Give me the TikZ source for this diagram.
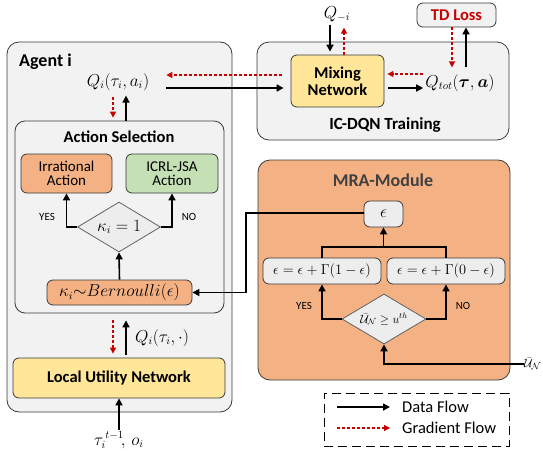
\documentclass[tikz,border=0pt]{standalone}
\usepackage{amsmath,amssymb}
\usepackage{fontspec}
\setmainfont{Carlito}
\usetikzlibrary{shapes.geometric,arrows.meta,calc}
\definecolor{panel}{HTML}{F2F2F2}
\definecolor{bdr}{HTML}{3A3A3A}
\definecolor{orng}{HTML}{F4B183}
\definecolor{grn}{HTML}{C5E0B4}
\definecolor{ylw}{HTML}{FFE699}
\definecolor{lgry}{HTML}{EDEDED}
\definecolor{gred}{HTML}{C80000}
\definecolor{dgry}{HTML}{404040}
\begin{document}
\begin{tikzpicture}[x=1pt,y=-1pt,
  box/.style={draw=bdr, line width=0.8pt, rounded corners=6pt, inner sep=0pt, align=center, font=\fontsize{15}{16}\selectfont},
  panelbox/.style={box, fill=panel, rounded corners=12pt},
  bt/.style={font=\fontsize{16.5}{19}\selectfont\bfseries},
  mt/.style={font=\fontsize{16}{19}\selectfont, inner sep=0pt},
  yn/.style={font=\fontsize{11}{13}\selectfont, inner sep=0pt},
  dia/.style={diamond, draw=bdr!80, line width=0.8pt, fill=lgry, aspect=1.66, inner sep=0pt},
  data/.style={line width=1.6pt, -{Triangle[length=7pt,width=7pt]}},
  plain/.style={line width=1.6pt},
  grad/.style={line width=1.3pt, gred, dash pattern=on 3pt off 2pt, -{Triangle[length=6pt,width=6pt]}}]
\useasboundingbox (0,0) rectangle (543,450);

% ---------- Agent panel ----------
\node[panelbox, minimum width=225pt, minimum height=370pt] (agent) at (119.5,227) {};
\node[bt, font=\fontsize{18}{21}\selectfont\bfseries, anchor=west, inner sep=0pt] (agenttitle) at (19,62) {Agent i};
\node[mt] (qi) at (118,82) {$Q_i(\tau_i,a_i)$};

\node[box, fill=panel, rounded corners=10pt, minimum width=209pt, minimum height=192pt] (actsel) at (119.5,217) {};
\node[bt, inner sep=0pt] (acttitle) at (119,137) {Action Selection};
\node[box, fill=orng, minimum width=91pt, minimum height=39pt] (irr) at (66.5,173.5) {Irrational\\[-2pt]Action};
\node[box, fill=grn, minimum width=92pt, minimum height=39pt] (icrl) at (172,173.5) {ICRL-JSA\\[-2pt]Action};
\node[dia, minimum width=83pt, minimum height=50pt] (d1) at (119,227) {\fontsize{16}{19}\selectfont$\kappa_i=1$};
\node[yn] (yes1) at (47,217) {YES};
\node[yn] (no1) at (189,217) {NO};
\node[box, fill=orng, minimum width=145pt, minimum height=25pt] (bern) at (119.5,292.5) {\fontsize{16}{19}\selectfont$\kappa_i{\sim}Bernoulli(\epsilon)$};

\node[box, fill=ylw, minimum width=212pt, minimum height=40pt, bt] (lun) at (119,378) {Local Utility Network};
\node[mt, anchor=west] (qidot) at (135,338) {$Q_i(\tau_i,\cdot)$};
\node[mt, inner sep=1pt] (tau) at (119,440) {$\tau_i^{\,t-1}\!,\,o_i$};

% ---------- IC-DQN panel ----------
\node[panelbox, minimum width=252pt, minimum height=98pt] (icdqn) at (383,91) {};
\node[bt, font=\fontsize{17}{20}\selectfont\bfseries, inner sep=0pt] (icdqntitle) at (385,125) {IC-DQN Training};
\node[box, fill=ylw, minimum width=93pt, minimum height=52pt, bt] (mix) at (337.5,81) {Mixing\\[-2pt]Network};
\node[mt] (qmi) at (337,14) {$Q_{-i}$};
\node[mt] (qtot) at (460,83) {$Q_{tot}(\boldsymbol{\tau},\boldsymbol{a})$};
\node[box, fill=panel, minimum width=79pt, minimum height=24pt, bt, text=gred] (td) at (456.5,15) {TD Loss};

% ---------- MRA panel ----------
\node[box, fill=orng, rounded corners=12pt, minimum width=252pt, minimum height=220pt] (mra) at (384,270) {};
\node[bt, font=\fontsize{18}{21}\selectfont\bfseries, text=dgry, inner sep=0pt] (mratitle) at (383,180) {MRA-Module};
\node[box, fill=lgry, minimum width=39pt, minimum height=26pt] (eps) at (383.5,214) {\fontsize{16}{19}\selectfont$\epsilon$};
\node[box, fill=lgry, minimum width=118pt, minimum height=26pt] (upd1) at (322,271) {$\epsilon=\epsilon+\Gamma(1-\epsilon)$};
\node[box, fill=lgry, minimum width=118pt, minimum height=26pt] (upd2) at (446,271) {$\epsilon=\epsilon+\Gamma(0-\epsilon)$};
\node[dia, minimum width=84pt, minimum height=50pt] (d2) at (384,319) {\fontsize{11.5}{13}\selectfont$\bar{\mathcal{U}}_{\mathcal{N}}\geq u^{th}$};
\node[yn] (yes2) at (304,306) {YES};
\node[yn] (no2) at (463,306) {NO};
\node[mt, font=\fontsize{13}{15}\selectfont, anchor=west] (ubar) at (524,364) {$\bar{\mathcal{U}}_{\mathcal{N}}$};

% ---------- Legend ----------
\node[draw=black, line width=1pt, dash pattern=on 9pt off 5pt, minimum width=185pt, minimum height=53pt, inner sep=0pt] (legend) at (416.5,419.5) {};
\coordinate (l1a) at (337,407);
\coordinate (l1b) at (390,407);
\coordinate (l2a) at (337,428);
\coordinate (l2b) at (390,428);
\node[mt, anchor=west, font=\fontsize{16.5}{19}\selectfont] (ldata) at (402,407) {Data Flow};
\node[mt, anchor=west, font=\fontsize{16.5}{19}\selectfont] (lgrad) at (402,428) {Gradient Flow};
\draw[data] (l1a) -- (l1b);
\draw[grad] (l2a) -- (l2b);

% ---------- Connectors ----------
% Q_i <-> action selection
\draw[grad] ($(actsel.north)+(-6.5,-24)$) -- ($(actsel.north)+(-6.5,-3)$);
\draw[data] ($(actsel.north)+(6.5,0)$) -- ($(actsel.north)+(6.5,-25)$);
% Q_i <-> mixing network
\draw[data] ($(qi.east)+(17,6)$) -- ($(mix.west)+(-7,7)$);
\draw[grad] ($(mix.west)+(-9,-6)$) -- ($(qi.east)+(17,-7)$);
% Q_{-i} <-> mixing
\draw[data] ($(mix.north)+(-7.5,-30)$) -- ($(mix.north)+(-7.5,-3)$);
\draw[grad] ($(mix.north)+(6.5,0)$) -- ($(mix.north)+(6.5,-27)$);
% mixing <-> Q_tot
\draw[data] ($(mix.east)+(4,7)$) -- ($(qtot.west)+(-2,5)$);
\draw[grad] ($(qtot.west)+(-2,-9)$) -- ($(mix.east)+(3,-7)$);
% Q_tot <-> TD loss
\draw[grad] ($(td.south)+(-4.5,0)$) -- ($(td.south)+(-4.5,40)$);
\draw[data] ($(td.south)+(9.5,40)$) -- ($(td.south)+(9.5,0)$);
% action selection internals
\draw[data] (d1.west) -| (irr.south);
\draw[data] (d1.east) -| (icrl.south);
\draw[data] (bern.north) -- (d1.south);
% eps -> bernoulli
\coordinate (bend1) at (246,213);
\draw[data] (eps.west |- bend1) -- (bend1) |- (bern.east);
% MRA internals
\coordinate (junc) at (383.5,247);
\draw[plain] (upd1.north) |- (junc) -| (upd2.north);
\draw[data] (junc) -- (eps.south);
\draw[data] (d2.west) -| (upd1.south);
\draw[data] (d2.east) -| (upd2.south);
\draw[data] (ubar.west) -| (d2.south);
% action selection <-> LUN
\draw[grad] ($(actsel.south)+(-6.5,7)$) -- ($(lun.north)+(-6,-4)$);
\draw[data] ($(lun.north)+(7,-3)$) -- ($(actsel.south)+(6.5,7)$);
% input
\draw[data] (tau.north) -- (lun.south);
\end{tikzpicture}
\end{document}
